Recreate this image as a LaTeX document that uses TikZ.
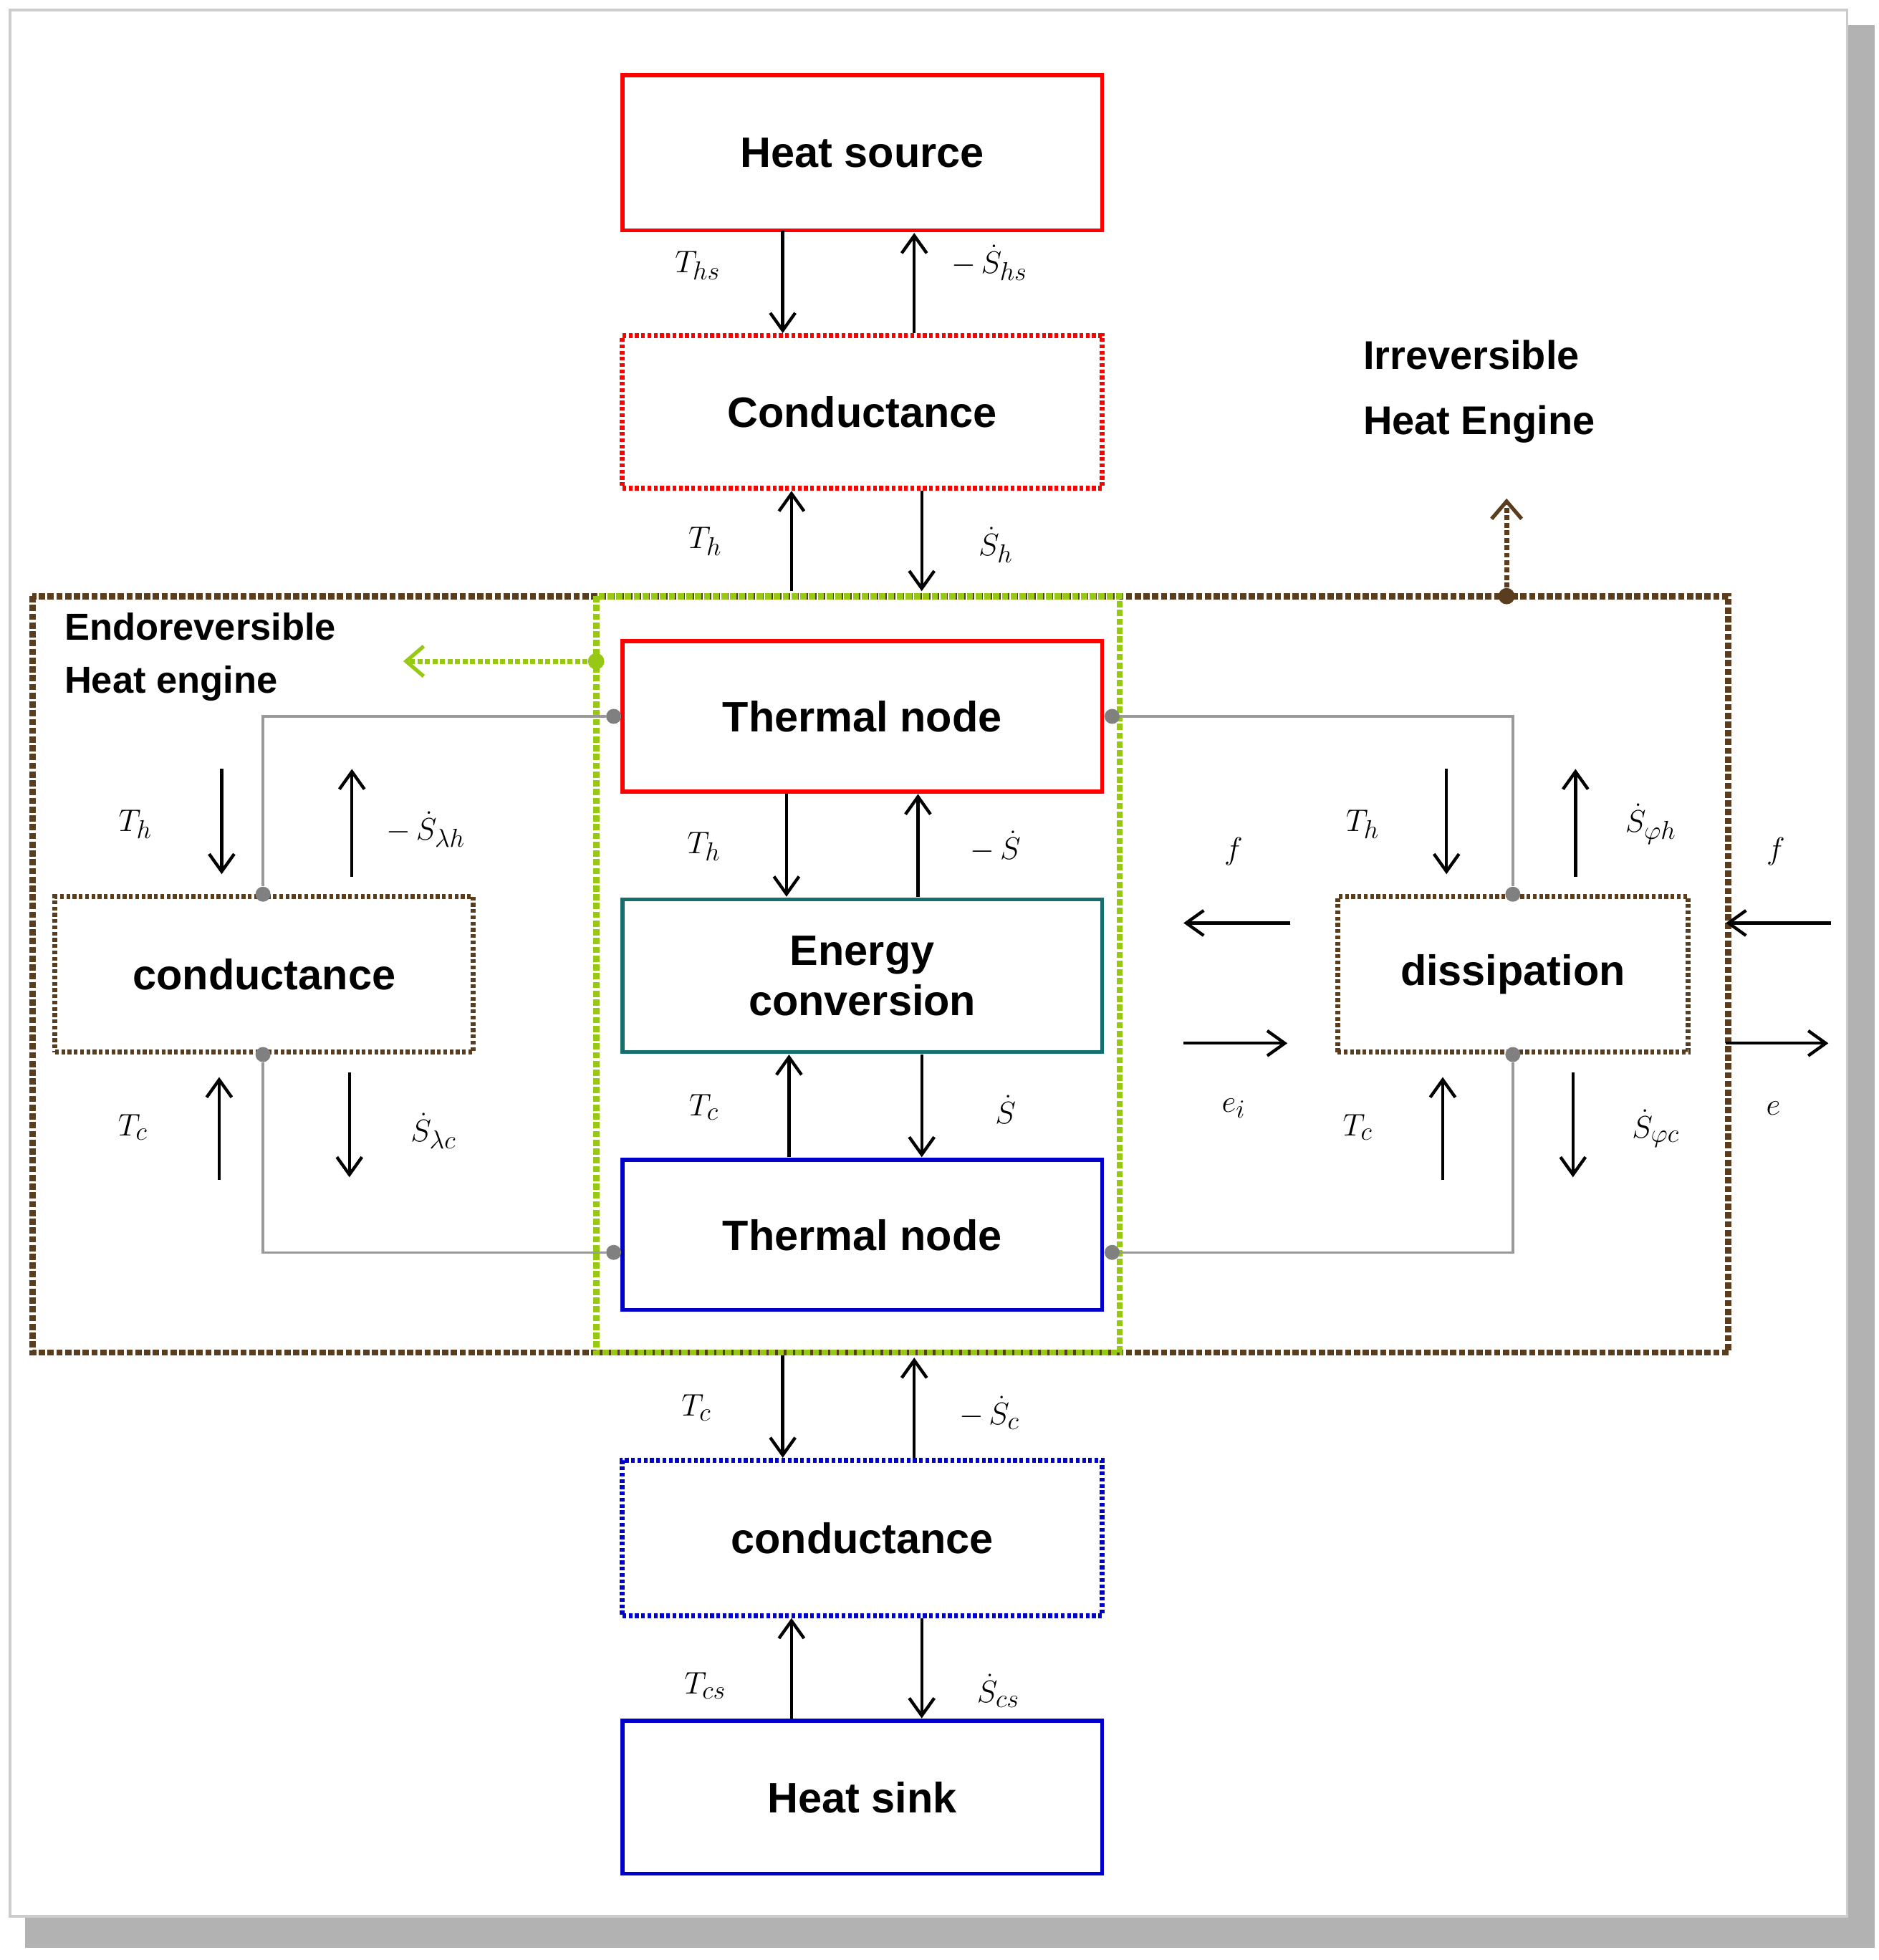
\documentclass[tikz,border=0pt]{standalone}
\usepackage{fontspec}
\setmainfont{Liberation Sans}
\usepackage{amsmath}
\usetikzlibrary{arrows.meta}
\begin{document}
\begin{tikzpicture}[x=1pt,y=-1pt,
 box/.style={draw,line width=3pt,font=\fontsize{34}{40}\selectfont\bfseries,align=center,inner sep=0pt},
 dotb/.style={box,dotted,line width=4pt},
 arr/.style={-{Straight Barb[length=14pt,width=20pt,line width=2.5pt]},line width=2.5pt},
 lab/.style={font=\fontsize{28}{30}\selectfont},
 gline/.style={draw=gray!80,line width=2pt},
 gdot/.style={circle,fill=gray,inner sep=0pt,minimum size=12pt}]
\useasboundingbox (0,0) rectangle (1500,1565);
\fill[gray!60] (20,20) rectangle (1497,1555);
\fill[white,draw=gray!40,line width=2pt] (8,8) rectangle (1475,1530);
\definecolor{br}{RGB}{90,60,30}
\definecolor{tl}{RGB}{20,110,110}
\definecolor{gr}{RGB}{150,200,20}
% outer frames
\draw[br,dotted,line width=5pt] (26,476) rectangle (1380,1080);
\draw[gr,dotted,line width=5pt] (476,476) rectangle (894,1080);
\node[anchor=north west,align=left,font=\fontsize{30}{42}\selectfont\bfseries] (endo) at (48,486) {Endoreversible\\Heat engine};
\node[anchor=north west,align=left,font=\fontsize{32}{52}\selectfont\bfseries] (irr) at (1085,268) {Irreversible\\Heat Engine};
% boxes
\node[box,draw=red,minimum width=383pt,minimum height=124pt] (hs) at (688.5,122) {Heat source};
\node[dotb,draw=red,minimum width=383pt,minimum height=122pt] (c1) at (688.5,329) {Conductance};
\node[box,draw=red,minimum width=383pt,minimum height=120pt] (tn1) at (688.5,572) {Thermal node};
\node[box,draw=tl,minimum width=383pt,minimum height=122pt] (ec) at (688.5,779) {Energy\\conversion};
\node[box,draw=blue!80!black,minimum width=383pt,minimum height=120pt] (tn2) at (688.5,986) {Thermal node};
\node[dotb,draw=blue!80!black,minimum width=383pt,minimum height=124pt] (c2) at (688.5,1228) {conductance};
\node[box,draw=blue!80!black,minimum width=383pt,minimum height=122pt] (sink) at (688.5,1435) {Heat sink};
\node[dotb,draw=br,minimum width=334pt,minimum height=124pt] (cl) at (211,778) {conductance};
\node[dotb,draw=br,minimum width=280pt,minimum height=124pt] (dis) at (1208,778) {dissipation};
% coordinates
\foreach \n/\x/\y in {a1/625/184,a2/625/266,b1/730/266,b2/730/186,
 c1a/632/472,c1b/632/392,d1/736/392,d2/736/472,
 e1/628/634,e2/628/716,f1/733/716,f2/733/634,
 g1/630/924,g2/630/842,h1/736/842,h2/736/924,
 i1/625/1082,i2/625/1164,j1/730/1164,j2/730/1084,
 k1/632/1372,k2/632/1292,l1/736/1292,l2/736/1372,
 m1/177/614,m2/177/698,n1/281/700,n2/281/614,o1/175/942,o2/175/860,p1/279/856,p2/279/940,
 q1/1155/614,q2/1155/698,r1/1258/700,r2/1258/614,s1/1152/942,s2/1152/860,t1/1256/856,t2/1256/940,
 u1/1030/737,u2/945/737,v1/945/833,v2/1028/833,w1/1462/737,w2/1378/737,y1/1378/833,y2/1460/833}
 {\coordinate (\n) at (\x,\y);}
\foreach \s/\t in {a1/a2,b1/b2,c1a/c1b,d1/d2,e1/e2,f1/f2,g1/g2,h1/h2,i1/i2,j1/j2,k1/k2,l1/l2,m1/m2,n1/n2,o1/o2,p1/p2,q1/q2,r1/r2,s1/s2,t1/t2,u1/u2,v1/v2,w1/w2,y1/y2}
 \draw[arr] (\s) -- (\t);
% gray lines
\node[gdot] (g1) at (490,572) {}; \node[gdot] (g2) at (888,572) {};
\node[gdot] (g3) at (490,1000) {}; \node[gdot] (g4) at (888,1000) {};
\node[gdot] (g5) at (210,714) {}; \node[gdot] (g6) at (210,842) {};
\node[gdot] (g7) at (1208,714) {}; \node[gdot] (g8) at (1208,842) {};
\draw[gline] (g1) -| (g5); \draw[gline] (g6) |- (g3);
\draw[gline] (g2) -| (g7); \draw[gline] (g8) |- (g4);
% dotted indicator arrows
\node[circle,fill=gr,inner sep=0pt,minimum size=13pt] (gd) at (476,528) {};
\coordinate (gt) at (322,528);
\draw[gr,dotted,line width=4pt,-{Straight Barb[length=14pt,width=24pt,line width=3pt]}] (gd) -- (gt);
\node[circle,fill=br,inner sep=0pt,minimum size=13pt] (bd) at (1203,476) {};
\coordinate (bt) at (1203,398);
\draw[br,dotted,line width=4pt,-{Straight Barb[length=14pt,width=24pt,line width=3pt]}] (bd) -- (bt);
% labels
\node[lab] at (557,212) {$T_{hs}$};
\node[lab] at (790,210) {$-\,\dot S_{hs}$};
\node[lab] at (563,432) {$T_h$};
\node[lab] at (795,435) {$\dot S_h$};
\node[lab] at (562,676) {$T_h$};
\node[lab] at (795,676) {$-\,\dot S$};
\node[lab] at (562,884) {$T_c$};
\node[lab] at (803,886) {$\dot S$};
\node[lab] at (556,1124) {$T_c$};
\node[lab] at (790,1128) {$-\,\dot S_c$};
\node[lab] at (563,1346) {$T_{cs}$};
\node[lab] at (797,1350) {$\dot S_{cs}$};
\node[lab] at (108,658) {$T_h$};
\node[lab] at (340,662) {$-\,\dot S_{\lambda h}$};
\node[lab] at (106,900) {$T_c$};
\node[lab] at (346,903) {$\dot S_{\lambda c}$};
\node[lab] at (1088,658) {$T_h$};
\node[lab] at (1318,658) {$\dot S_{\varphi h}$};
\node[lab] at (1084,900) {$T_c$};
\node[lab] at (1322,901) {$\dot S_{\varphi c}$};
\node[lab] at (985,680) {$f$};
\node[lab] at (985,885) {$e_i$};
\node[lab] at (1418,680) {$f$};
\node[lab] at (1416,885) {$e$};
\end{tikzpicture}
\end{document}
